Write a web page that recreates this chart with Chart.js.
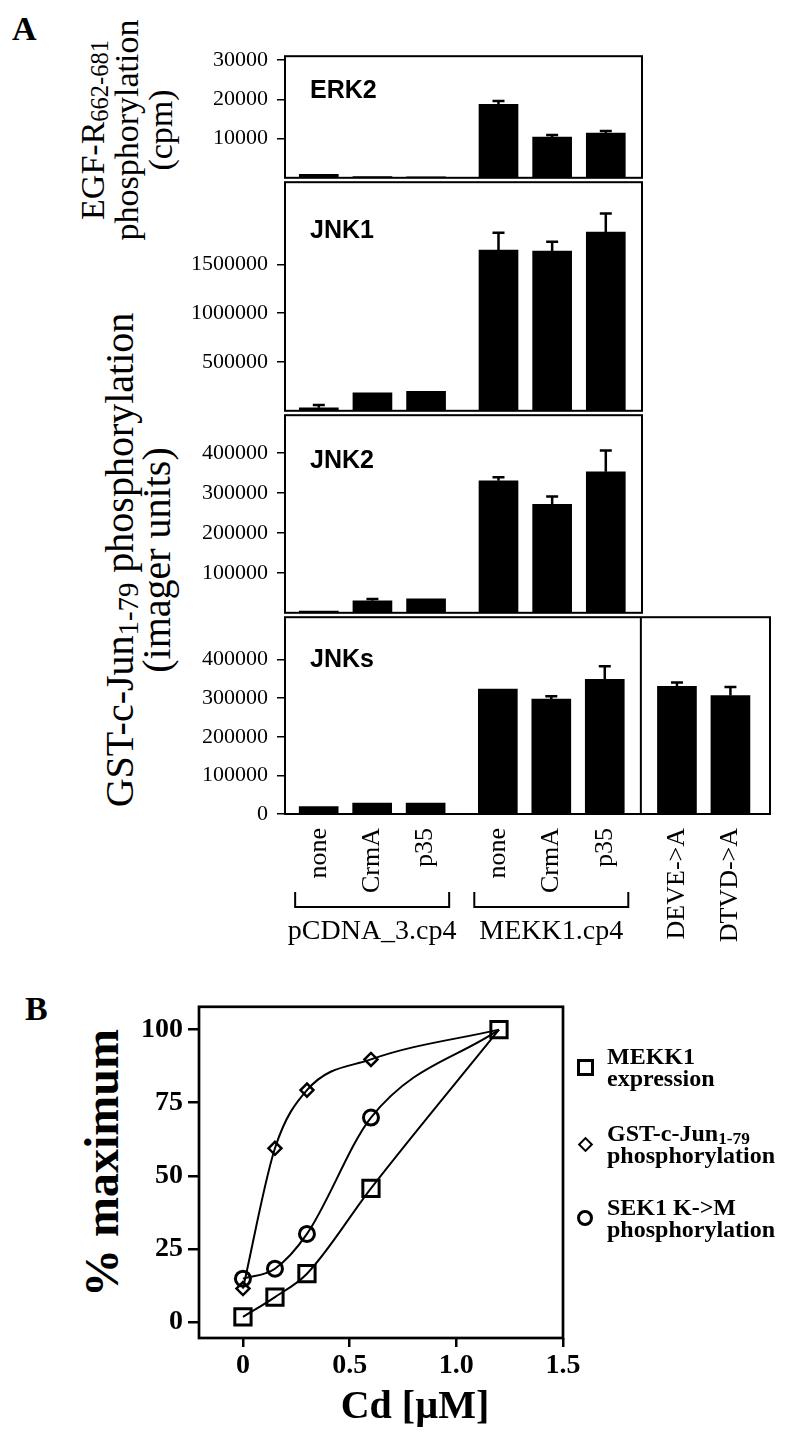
<!DOCTYPE html>
<html>
<head>
<meta charset="utf-8">
<script src="https://cdn.jsdelivr.net/npm/chart.js@4.4.0/dist/chart.umd.min.js"></script>
<style>
  body { margin: 0; background: #fff; width: 800px; height: 1443px; position: relative; overflow: hidden;
         font-family: "Liberation Serif", "Times New Roman", serif; color: #000; }
  canvas { position: absolute; }
  .txt { position: absolute; white-space: nowrap; }
  .rot { transform: translate(-50%, -50%) rotate(-90deg); text-align: center; }
  .lbl { font-weight: bold; font-size: 34px; }
  .leg { position: absolute; left: 607px; font-weight: bold; font-size: 24px; line-height: 22px; }
  .mk { position: absolute; box-sizing: border-box; border: 3px solid #000; }
  sub { font-size: 0.72em; vertical-align: -0.18em; line-height: 0; }
</style>
</head>
<body>

<div class="txt lbl" style="left:12px;top:10px;">A</div>
<div class="txt lbl" style="left:25px;top:990px;">B</div>

<div class="txt rot" style="left:127px;top:130px;font-size:34px;line-height:34px;">EGF-R<sub>662-681</sub><br>phosphorylation<br>(cpm)</div>
<div class="txt rot" style="left:138px;top:560px;font-size:40px;line-height:37px;">GST-c-Jun<sub>1-79</sub> phosphorylation<br>(imager units)</div>

<canvas id="erk2" width="467" height="166" style="left:185px;top:34px;"></canvas>
<canvas id="jnk1" width="467" height="273" style="left:185px;top:160px;"></canvas>
<canvas id="jnk2" width="467" height="242" style="left:185px;top:393px;"></canvas>
<canvas id="jnks" width="595" height="359" style="left:185px;top:595px;"></canvas>

<canvas id="dose" width="459" height="403" style="left:129px;top:985px;"></canvas>
<div class="txt rot" style="left:102px;top:1163px;font-size:48px;line-height:48px;font-weight:bold;">% maximum</div>
<div class="txt" style="left:415px;top:1405px;transform:translate(-50%,-50%);font-size:40px;line-height:40px;font-weight:bold;">Cd [µM]</div>

<div class="mk" style="left:577px;top:1059px;width:17px;height:17px;"></div>
<div class="leg" style="top:1045px;">MEKK1<br>expression</div>
<div class="mk" style="left:580px;top:1139px;width:11px;height:11px;border-width:2.5px;transform:rotate(45deg);"></div>
<div class="leg" style="top:1122px;">GST-c-Jun<sub>1-79</sub><br>phosphorylation</div>
<div class="mk" style="left:577px;top:1210px;width:16px;height:16px;border-radius:50%;"></div>
<div class="leg" style="top:1196px;">SEK1 K-&gt;M<br>phosphorylation</div>

<script>
// ---- panel A: categories ----
const categories = ['none', 'CrmA', 'p35', 'none', 'CrmA', 'p35', 'DEVE->A', 'DTVD->A'];
const categoryGroup = [0, 0, 0, 1, 1, 1, 2, 2];
const groupNames = ['pCDNA_3.cp4', 'MEKK1.cp4'];

// ---- panel A: values (mean, upper error) ----
const erk2 = [900, 300, 250, 18750, 10400, 11400];
const erk2Err = [0, 0, 0, 850, 500, 500];
const jnk1 = [30000, 185000, 200000, 1646000, 1636000, 1829000];
const jnk1Err = [30000, 0, 0, 176000, 94000, 190000];
const jnk2 = [4600, 29900, 34800, 330000, 271000, 352600];
const jnk2Err = [0, 4900, 0, 9000, 19700, 53000];
const jnks = [19500, 28500, 28500, 324000, 298000, 349000, 331000, 307000];
const jnksErr = [0, 0, 0, 0, 7000, 34000, 10000, 22000];

const erk2Ticks = [10000, 20000, 30000];
const jnk1Ticks = [500000, 1000000, 1500000];
const jnk2Ticks = [100000, 200000, 300000, 400000];
const jnksTicks = [0, 100000, 200000, 300000, 400000];

// ---- panel B ----
const cdDose = [0, 0.15, 0.3, 0.6, 1.2];
const mekk1Expr = [1.7, 8.5, 16.5, 45.7, 100];
const gstJun = [11.4, 59.4, 79.3, 89.8, 100];
const sek1 = [14.8, 18.2, 30.1, 69.9, 100];
const pctTicks = [0, 25, 50, 75, 100];
const cdTicks = [0, 0.5, 1.0, 1.5];

var SERIF = '"Liberation Serif", "Times New Roman", serif';
var SANS = '"Liberation Sans", Arial, sans-serif';
Chart.defaults.color = '#000';

// bars sit on index slots, with a little extra room between groups
var GROUP_GAP = 0.35;
function slot(i) { return i + GROUP_GAP * categoryGroup[i]; }
var xLeft = slot(0) - 0.63;
var divider = (slot(5) + slot(6)) / 2;
var xRight = slot(7) + 0.74;

var errorBars = {
    id: 'errorBars',
    afterDatasetsDraw: function (chart, args, opts) {
        var errs = opts.errors;
        if (!errs) return;
        var ctx = chart.ctx, y = chart.scales.y;
        var pts = chart.data.datasets[0].data;
        ctx.save();
        ctx.strokeStyle = '#000';
        ctx.lineWidth = 2.5;
        chart.getDatasetMeta(0).data.forEach(function (bar, i) {
            if (!errs[i]) return;
            var top = y.getPixelForValue(pts[i].y + errs[i]);
            ctx.beginPath();
            ctx.moveTo(bar.x, bar.y);
            ctx.lineTo(bar.x, top);
            ctx.moveTo(bar.x - 6, top);
            ctx.lineTo(bar.x + 6, top);
            ctx.stroke();
        });
        ctx.restore();
    }
};

var frame = {
    id: 'frame',
    afterDraw: function (chart, args, opts) {
        var a = chart.chartArea, ctx = chart.ctx;
        ctx.save();
        ctx.strokeStyle = '#000';
        ctx.lineWidth = opts.width || 2;
        ctx.strokeRect(a.left, a.top, a.right - a.left, a.bottom - a.top);
        if (opts.divider != null) {
            var dx = chart.scales.x.getPixelForValue(opts.divider);
            ctx.beginPath();
            ctx.moveTo(dx, a.top);
            ctx.lineTo(dx, a.bottom);
            ctx.stroke();
        }
        if (opts.label) {
            ctx.fillStyle = '#000';
            ctx.font = 'bold 25px ' + SANS;
            ctx.textBaseline = 'middle';
            ctx.fillText(opts.label, a.left + 25, a.top + opts.labelDy);
        }
        ctx.restore();
    }
};

var brackets = {
    id: 'brackets',
    afterDraw: function (chart) {
        var x = chart.scales.x, base = chart.chartArea.bottom, ctx = chart.ctx;
        ctx.save();
        ctx.strokeStyle = '#000';
        ctx.lineWidth = 2;
        ctx.fillStyle = '#000';
        ctx.font = '28px ' + SERIF;
        ctx.textAlign = 'center';
        ctx.textBaseline = 'middle';
        groupNames.forEach(function (name, g) {
            var idx = [];
            categoryGroup.forEach(function (gg, i) { if (gg === g) idx.push(i); });
            var x0 = x.getPixelForValue(slot(idx[0]) - 0.44);
            var x1 = x.getPixelForValue(slot(idx[idx.length - 1]) + 0.44);
            ctx.beginPath();
            ctx.moveTo(x0, base + 78);
            ctx.lineTo(x0, base + 93);
            ctx.lineTo(x1, base + 93);
            ctx.lineTo(x1, base + 78);
            ctx.stroke();
            ctx.fillText(name, (x0 + x1) / 2, base + 118);
        });
        ctx.restore();
    }
};

function barPanel(id, values, errs, ticks, yMax, label, labelDy, full) {
    return new Chart(document.getElementById(id), {
        type: 'bar',
        data: {
            datasets: [{
                data: values.map(function (v, i) { return { x: slot(i), y: v }; }),
                backgroundColor: '#000',
                barThickness: 39,
            }],
        },
        options: {
            responsive: false,
            animation: false,
            layout: { padding: { top: 20, bottom: full ? 0 : 20, left: 0, right: 10 } },
            plugins: {
                legend: { display: false },
                tooltip: { enabled: false },
                errorBars: { errors: errs },
                frame: { label: label, labelDy: labelDy, divider: full ? divider : null, width: 2 },
            },
            scales: {
                x: {
                    type: 'linear',
                    offset: false,
                    min: xLeft, max: full ? xRight : divider,
                    display: full,
                    grid: { display: false, drawTicks: false },
                    border: { display: false },
                    afterBuildTicks: function (s) { s.ticks = categories.map(function (c, i) { return { value: slot(i) }; }); },
                    afterFit: function (s) { if (full) s.height = 140; },
                    ticks: {
                        autoSkip: false, minRotation: 90, maxRotation: 90, padding: 14,
                        font: { family: SERIF, size: 26 },
                        callback: function (v, i) { return categories[i]; },
                    },
                },
                y: {
                    min: 0, max: yMax,
                    afterBuildTicks: function (s) { s.ticks = ticks.map(function (v) { return { value: v }; }); },
                    afterFit: function (s) { s.width = 100; },
                    grid: { drawOnChartArea: false, tickLength: 8, color: '#000', lineWidth: 1.5 },
                    border: { display: false },
                    ticks: { padding: 9, font: { family: SERIF, size: 22 }, callback: function (v) { return String(v); } },
                },
            },
        },
        plugins: full ? [errorBars, frame, brackets] : [errorBars, frame],
    });
}

barPanel('erk2', erk2, erk2Err, erk2Ticks, 31000, 'ERK2', 35, false);
barPanel('jnk1', jnk1, jnk1Err, jnk1Ticks, 2340000, 'JNK1', 49, false);
barPanel('jnk2', jnk2, jnk2Err, jnk2Ticks, 494000, 'JNK2', 46, false);
barPanel('jnks', jnks, jnksErr, jnksTicks, 510000, 'JNKs', 43, true);

function series(label, ys, style, radius, bw) {
    return {
        label: label,
        data: cdDose.map(function (x, i) { return { x: x, y: ys[i] }; }),
        borderColor: '#000',
        borderWidth: 2,
        cubicInterpolationMode: 'monotone',
        pointStyle: style,
        pointRadius: radius,
        pointBorderWidth: bw,
        pointBorderColor: '#000',
        pointBackgroundColor: 'rgba(0,0,0,0)',
    };
}

new Chart(document.getElementById('dose'), {
    type: 'line',
    data: {
        datasets: [
            series('MEKK1 expression', mekk1Expr, 'rect', 11.5, 3),
            series('GST-c-Jun1-79 phosphorylation', gstJun, 'rectRot', [6.5, 6.5, 6.5, 6.5, 0], 2.5),
            series('SEK1 K->M phosphorylation', sek1, 'circle', [7.5, 7.5, 7.5, 7.5, 0], 3),
        ],
    },
    options: {
        responsive: false,
        animation: false,
        layout: { padding: { top: 20, bottom: 0, left: 0, right: 25 } },
        plugins: {
            legend: { display: false },
            tooltip: { enabled: false },
            frame: { width: 2.7 },
        },
        scales: {
            x: {
                type: 'linear', min: -0.206, max: 1.5,
                afterBuildTicks: function (s) { s.ticks = cdTicks.map(function (v) { return { value: v }; }); },
                afterFit: function (s) { s.height = 50; },
                grid: { drawOnChartArea: false, tickLength: 9, color: '#000', lineWidth: 2.5 },
                border: { display: false },
                ticks: { padding: 2, font: { family: SERIF, size: 28, weight: 'bold' },
                         callback: function (v) { return v === 0 ? '0' : v.toFixed(1); } },
            },
            y: {
                min: -5.5, max: 107.8,
                afterBuildTicks: function (s) { s.ticks = pctTicks.map(function (v) { return { value: v }; }); },
                afterFit: function (s) { s.width = 70; },
                grid: { drawOnChartArea: false, tickLength: 11, color: '#000', lineWidth: 2.5 },
                border: { display: false },
                ticks: { padding: 5, font: { family: SERIF, size: 28, weight: 'bold' } },
            },
        },
    },
    plugins: [frame],
});
</script>
</body>
</html>
